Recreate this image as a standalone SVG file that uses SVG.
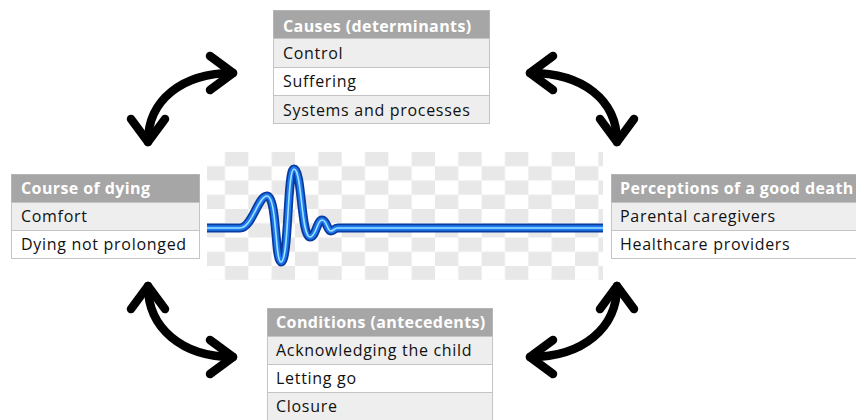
<svg xmlns="http://www.w3.org/2000/svg" width="856" height="420" viewBox="0 0 856 420">
<style>
.hdr{fill:#a6a6a6;stroke:#b5b5b5;stroke-width:1}
.r1{fill:#eeeeee;stroke:#c4c4c4;stroke-width:1}
.r2{fill:#ffffff;stroke:#c4c4c4;stroke-width:1}
.ht{font-family:"Open Sans","Noto Sans",sans-serif;font-weight:bold;font-size:16px;letter-spacing:0.4px;fill:#ffffff}
.rt{font-family:"Open Sans","Noto Sans",sans-serif;font-size:16px;letter-spacing:0.7px;fill:#111111}
.arr{fill:none;stroke:#000;stroke-width:8.5;stroke-linecap:round;marker-start:url(#chev);marker-end:url(#chev)}
</style>
<defs>
<pattern id="chk" patternUnits="userSpaceOnUse" x="201.67" y="152" width="46.67" height="28.5">
<rect x="23.33" y="0" width="23.34" height="14.25" fill="#e8e8e8"/>
<rect x="0" y="14.25" width="23.33" height="14.25" fill="#e8e8e8"/>
</pattern>
<marker id="chev" markerUnits="userSpaceOnUse" viewBox="-40 -30 50 60" refX="0" refY="0" markerWidth="50" markerHeight="60" orient="auto-start-reverse" overflow="visible">
<path d="M-23,-17 L0,0 L-23,17" fill="none" stroke="#000" stroke-width="8.5" stroke-linecap="round" stroke-linejoin="round"/>
</marker>
</defs>
<rect width="856" height="420" fill="#ffffff"/>

<g id="ecg">
<rect x="207" y="152" width="396" height="128" fill="url(#chk)"/>
<path d="M207,228 L240,228 C252,228 258,196 267,196 C277,196 275,262 281,262 C289,262 287,169 294,169 C302,169 301,237 310,237 C316,237 317,220 322,220 C327,220 327,231 331,231 C334,231 334,228 338,228 L603,228" fill="none" stroke="#0b3a9e" stroke-width="9" stroke-linejoin="round"/>
<path d="M207,228 L240,228 C252,228 258,196 267,196 C277,196 275,262 281,262 C289,262 287,169 294,169 C302,169 301,237 310,237 C316,237 317,220 322,220 C327,220 327,231 331,231 C334,231 334,228 338,228 L603,228" fill="none" stroke="#1e78ee" stroke-width="5.5" stroke-linejoin="round"/>
<path d="M207,228 L240,228 C252,228 258,196 267,196 C277,196 275,262 281,262 C289,262 287,169 294,169 C302,169 301,237 310,237 C316,237 317,220 322,220 C327,220 327,231 331,231 C334,231 334,228 338,228 L603,228" fill="none" stroke="#9ee4ff" stroke-width="1.6" stroke-linejoin="round"/>
</g>

<g id="causes">
<rect class="hdr" x="273.5" y="10.5" width="216" height="28"/>
<rect class="r1" x="273.5" y="38.5" width="216" height="29"/>
<rect class="r2" x="273.5" y="67.5" width="216" height="28"/>
<rect class="r1" x="273.5" y="95.5" width="216" height="28"/>
<text class="ht" x="283" y="32">Causes (determinants)</text>
<text class="rt" x="283" y="59">Control</text>
<text class="rt" x="283" y="87">Suffering</text>
<text class="rt" x="283" y="116">Systems and processes</text>
</g>

<g id="course">
<rect class="hdr" x="11.5" y="174.5" width="188" height="28"/>
<rect class="r1" x="11.5" y="202.5" width="188" height="28"/>
<rect class="r2" x="11.5" y="230.5" width="188" height="28"/>
<text class="ht" x="21" y="194">Course of dying</text>
<text class="rt" x="21" y="222">Comfort</text>
<text class="rt" x="21" y="250">Dying not prolonged</text>
</g>

<g id="perceptions">
<rect class="hdr" x="611.5" y="174.5" width="250" height="28"/>
<rect class="r1" x="611.5" y="202.5" width="250" height="28"/>
<rect class="r2" x="611.5" y="230.5" width="250" height="28"/>
<text class="ht" x="620" y="194">Perceptions of a good death</text>
<text class="rt" x="620" y="222">Parental caregivers</text>
<text class="rt" x="620" y="250">Healthcare providers</text>
</g>

<g id="conditions">
<rect class="hdr" x="267.5" y="308.5" width="225" height="28"/>
<rect class="r1" x="267.5" y="336.5" width="225" height="28"/>
<rect class="r2" x="267.5" y="364.5" width="225" height="28"/>
<rect class="r1" x="267.5" y="392.5" width="225" height="30"/>
<text class="ht" x="276" y="328">Conditions (antecedents)</text>
<text class="rt" x="276" y="356">Acknowledging the child</text>
<text class="rt" x="276" y="384">Letting go</text>
<text class="rt" x="276" y="412">Closure</text>
</g>

<g id="connectors">
<path class="arr" d="M148,142 C148,100 182,73 233,73"/>
<path class="arr" d="M617,142 C617,100 583,73 530,73"/>
<path class="arr" d="M148,286 C148,328 182,357 233,357"/>
<path class="arr" d="M617,286 C617,328 583,357 530,357"/>
</g>
</svg>
